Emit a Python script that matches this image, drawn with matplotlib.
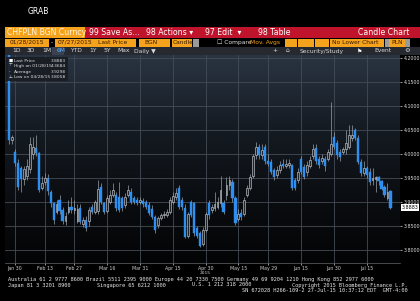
import matplotlib
matplotlib.use("Agg")
import matplotlib.pyplot as plt
from matplotlib.patches import Rectangle
from matplotlib.colors import LinearSegmentedColormap
import numpy as np
import pandas as pd

# ---------------- data ----------------
dates = pd.bdate_range("2015-01-28", "2015-07-27")
opens = [
4.250, 4.030, 4.005, 3.981, 3.970, 3.947, 3.955, 3.968, 4.000, 4.013,
4.002, 3.930, 3.942, 3.950, 3.921, 3.897, 3.880, 3.905, 3.884, 3.860,
3.880, 3.890, 3.883, 3.860, 3.887, 3.855, 3.862, 3.860, 3.890, 3.880,
3.882, 3.932, 3.897, 3.882, 3.900, 3.915, 3.915, 3.911, 3.908, 3.893,
3.915, 3.921, 3.908, 3.905, 3.900, 3.903, 3.900, 3.893, 3.885, 3.869,
3.852, 3.866, 3.872, 3.873, 3.880, 3.900, 3.910, 3.930, 3.905, 3.887,
3.830, 3.900, 3.897, 3.845, 3.835, 3.812, 3.842, 3.898, 3.884, 3.888,
3.890, 3.897, 3.897, 3.915, 3.935, 3.942, 3.908, 3.865, 3.878, 3.875,
3.915, 3.930, 3.955, 3.998, 4.014, 3.998, 4.015, 3.985, 3.984, 3.966,
3.957, 3.966, 3.980, 3.975, 3.976, 3.977, 3.945, 3.945, 3.990, 3.973,
3.963, 3.975, 3.995, 4.012, 3.990, 3.985, 3.990, 3.990, 4.000, 4.036,
4.022, 4.005, 4.005, 4.010, 4.015, 4.033, 4.050, 4.033, 3.984, 3.960,
3.970, 3.963, 3.945, 3.948, 3.951, 3.943, 3.932, 3.908, 3.922]
closes = [
4.030, 4.035, 3.982, 3.932, 3.948, 3.968, 3.975, 4.020, 4.015, 4.002,
3.925, 3.940, 3.950, 3.922, 3.897, 3.862, 3.895, 3.882, 3.860, 3.870,
3.890, 3.883, 3.888, 3.885, 3.859, 3.862, 3.845, 3.884, 3.880, 3.900,
3.928, 3.900, 3.880, 3.908, 3.915, 3.925, 3.887, 3.883, 3.887, 3.911,
3.925, 3.900, 3.901, 3.898, 3.904, 3.896, 3.890, 3.878, 3.869, 3.842,
3.866, 3.872, 3.876, 3.880, 3.905, 3.913, 3.918, 3.890, 3.890, 3.828,
3.875, 3.873, 3.835, 3.830, 3.808, 3.842, 3.875, 3.872, 3.890, 3.895,
3.900, 3.925, 3.880, 3.935, 3.945, 3.908, 3.856, 3.875, 3.869, 3.905,
3.930, 3.952, 3.995, 4.014, 3.998, 4.008, 3.985, 3.979, 3.963, 3.953,
3.966, 3.977, 3.975, 3.980, 3.981, 3.930, 3.930, 3.963, 3.963, 3.953,
3.978, 3.988, 4.010, 3.985, 3.978, 3.991, 3.975, 4.005, 4.020, 4.015,
3.998, 3.994, 4.010, 4.022, 4.040, 4.040, 4.033, 3.984, 3.960, 3.970,
3.956, 3.942, 3.950, 3.951, 3.943, 3.928, 3.915, 3.920, 3.8883]
highs = [
4.3684, 4.040, 4.010, 3.990, 3.975, 3.975, 3.990, 4.035, 4.035, 4.040,
4.005, 3.955, 3.960, 3.958, 3.925, 3.900, 3.905, 3.915, 3.890, 3.880,
3.905, 3.910, 3.905, 3.895, 3.895, 3.868, 3.870, 3.890, 3.895, 3.905,
3.946, 3.940, 3.900, 3.915, 3.925, 3.940, 3.920, 3.942, 3.912, 3.918,
3.935, 3.930, 3.912, 3.910, 3.910, 3.908, 3.905, 3.900, 3.893, 3.872,
3.870, 3.878, 3.882, 3.885, 3.910, 3.920, 3.930, 3.935, 3.910, 3.895,
3.880, 3.905, 3.900, 3.850, 3.840, 3.848, 3.880, 3.905, 3.895, 3.920,
3.910, 3.955, 3.905, 3.953, 3.955, 3.948, 3.912, 3.885, 3.885, 3.910,
3.935, 3.958, 4.000, 4.025, 4.020, 4.020, 4.020, 4.000, 3.990, 3.970,
3.975, 3.985, 3.990, 3.990, 3.990, 3.980, 3.950, 3.970, 3.995, 3.980,
3.985, 3.995, 4.020, 4.020, 3.995, 4.000, 3.995, 4.010, 4.109, 4.045,
4.030, 4.010, 4.015, 4.050, 4.060, 4.060, 4.055, 4.040, 3.990, 3.985,
3.975, 3.970, 3.970, 3.955, 3.955, 3.945, 3.935, 3.940, 3.925]
lows = [
4.020, 4.020, 3.975, 3.925, 3.920, 3.935, 3.945, 3.960, 3.990, 3.995,
3.920, 3.925, 3.935, 3.915, 3.890, 3.855, 3.875, 3.875, 3.855, 3.853,
3.875, 3.878, 3.875, 3.857, 3.855, 3.848, 3.840, 3.850, 3.875, 3.875,
3.875, 3.895, 3.875, 3.878, 3.895, 3.910, 3.882, 3.880, 3.882, 3.888,
3.910, 3.895, 3.895, 3.893, 3.895, 3.890, 3.885, 3.872, 3.865, 3.835,
3.845, 3.862, 3.866, 3.868, 3.875, 3.895, 3.905, 3.885, 3.883, 3.825,
3.825, 3.868, 3.830, 3.825, 3.8058, 3.808, 3.838, 3.865, 3.878, 3.882,
3.885, 3.890, 3.875, 3.905, 3.925, 3.900, 3.852, 3.860, 3.862, 3.870,
3.910, 3.925, 3.950, 3.990, 3.990, 3.990, 3.980, 3.975, 3.958, 3.945,
3.950, 3.960, 3.970, 3.970, 3.970, 3.925, 3.925, 3.940, 3.958, 3.948,
3.955, 3.970, 3.990, 3.980, 3.970, 3.980, 3.965, 3.985, 3.995, 4.010,
3.990, 3.985, 4.000, 4.000, 4.010, 4.028, 4.030, 3.980, 3.955, 3.955,
3.950, 3.935, 3.935, 3.920, 3.935, 3.925, 3.910, 3.905, 3.885]
y_ticks = [3.80, 3.85, 3.90, 3.95, 4.00, 4.05, 4.10, 4.15, 4.20]
x_tick_dates = ["2015-01-30", "2015-02-13", "2015-02-27", "2015-03-16",
                "2015-03-31", "2015-04-15", "2015-04-30", "2015-05-15",
                "2015-05-29", "2015-06-15", "2015-06-30", "2015-07-15"]
x_tick_labels = ["Jan 30", "Feb 13", "Feb 27", "Mar 16", "Mar 31", "Apr 15",
                 "Apr 30", "May 15", "May 29", "Jun 15", "Jun 30", "Jul 15"]
legend_rows = [("Last Price", "3.8883"), ("High on 01/28/15", "4.3684"),
               ("Average", "3.9298"), ("Low on 04/28/15", "3.8058")]
last_price = 3.8883

# ---------------- figure helpers ----------------
W, H = 420, 301
fig = plt.figure(figsize=(W / 100, H / 100), dpi=100, facecolor="black")

def fx(x): return x / W
def fy(y): return 1 - y / H

def rect(x0, y0, x1, y1, color, ec="none", lw=0, z=1, alpha=1.0):
    fig.patches.append(Rectangle((fx(x0), fy(y1)), (x1 - x0) / W, (y1 - y0) / H,
                                 transform=fig.transFigure, facecolor=color,
                                 edgecolor=ec, linewidth=lw, zorder=z, alpha=alpha))

def txt(x, y, s, size=4, color="white", ha="left", va="center", **kw):
    fig.text(fx(x), fy(y), s, fontsize=size, color=color, ha=ha, va=va, **kw)

ORANGE = "#f5a21c"
RED = "#c0142c"
DARKTXT = "#3a1a00"

# title
txt(28, 11, "GRAB", size=5.5)

# row 1
rect(5, 27, 85, 38, ORANGE)
txt(7, 32.5, "CHFPLN BGN Curncy", size=5.6, color="#fff4e0")
rect(85, 27, 420, 38, RED)
txt(89, 32.5, "99 Save As...", size=5.6)
txt(146, 32.5, "98 Actions \u25be", size=5.6)
txt(205, 32.5, "97 Edit  \u25be", size=5.6)
txt(258, 32.5, "98 Table", size=5.6)
txt(409, 32.5, "Candle Chart", size=5.6, ha="right")

# row 2
rect(5, 38.5, 49, 46.5, ORANGE)
txt(10, 42.5, "01/28/2015", size=4.3, color=DARKTXT)
txt(51, 42.5, "-", size=4.3)
rect(55, 38.5, 97, 46.5, ORANGE)
txt(58, 42.5, "07/27/2015", size=4.3, color=DARKTXT)
rect(97, 38.5, 136, 46.5, ORANGE)
txt(98, 42.5, "Last Price", size=4.3, color=DARKTXT)
rect(139, 38.5, 170, 46.5, ORANGE)
txt(144, 42.5, "BGN", size=4.3, color=DARKTXT)
rect(172, 38.5, 192, 46.5, ORANGE)
txt(173, 42.5, "Candle", size=4.3, color=DARKTXT)
rect(193, 38.5, 199, 46.5, "#9a9a9a")
txt(217, 42.5, "\u2610 Compare", size=4.3, color="#e0e0e0")
txt(250, 42.5, "Mov. Avgs", size=4.3, color=ORANGE)
for a, b in [(285, 297), (298, 314), (315, 329), (330, 384)]:
    rect(a, 38.5, b, 46.5, ORANGE)
txt(332, 42.5, "No Lower Chart", size=4.3, color=DARKTXT)
rect(385, 38.5, 389, 46.5, "#9a9a9a")
rect(389, 38.5, 405, 46.5, ORANGE)
txt(391, 42.5, "PLN", size=4.3, color=DARKTXT)
rect(405, 38.5, 410, 46.5, "#9a9a9a")

# row 3
rect(5, 47, 420, 55, "#262a30")
tabs = [("1D", 12), ("3D", 27), ("1M", 42), ("6M", 57), ("YTD", 70),
        ("1Y", 89), ("5Y", 103), ("Max", 117), ("Daily \u25bc", 134)]
rect(52, 47.5, 64, 54.5, "#3a4252")
for s, x in tabs:
    txt(x, 51, s, size=4.3, color="#5ab0ff" if s == "6M" else "#d8d8d8")
txt(272, 51, "+", size=4.3, color="#d8d8d8")
txt(286, 51, "\u2302", size=4.3, color="#d8d8d8")
txt(300, 51, "Security/Study", size=4.3, color="#d8d8d8")
txt(357, 51, "\u2691", size=4.3, color="white")
txt(374, 51, "Event", size=4.3, color="#d8d8d8")
txt(404, 51, "\u2699", size=4.6, color="#d8d8d8")

# ---------------- chart ----------------
ax = fig.add_axes([fx(5), fy(263), (400 - 5) / W, (263 - 55) / H])
ax.set_facecolor("black")
n = len(dates)
xs = np.arange(n)
ylo, yhi = 3.773, 4.206
ax.set_xlim(-1.3, 131.2)
ax.set_ylim(ylo, yhi)

grad = np.linspace(1, 0, 256).reshape(-1, 1)
cmap = LinearSegmentedColormap.from_list("bg", ["#030405", "#0b0e12", "#161c24", "#2a3442"])
ax.imshow(grad, extent=[-1.3, 131.2, ylo, yhi], aspect="auto", cmap=cmap,
          origin="upper", zorder=0, vmin=0, vmax=1)

for yv in y_ticks:
    ax.axhline(yv, color="#454c56", lw=0.6, zorder=1)
tick_idx = [dates.get_loc(pd.Timestamp(d)) for d in x_tick_dates]
for xi in tick_idx:
    ax.axvline(xi, color="#454c56", lw=0.6, zorder=1)

o = np.array(opens); c = np.array(closes); h = np.array(highs); l = np.array(lows)
up = c >= o
dn = ~up
ax.vlines(xs, l, h, color="#9aa0a8", lw=0.5, zorder=2)
ax.bar(xs[dn], np.maximum(o[dn] - c[dn], 0.0015), bottom=c[dn], width=0.72,
       color="#2f8ff0", edgecolor="#2f8ff0", linewidth=0.3, zorder=3)
ax.bar(xs[up], np.maximum(c[up] - o[up], 0.0015), bottom=o[up], width=0.62,
       color="#20252c", edgecolor="#c4c8ce", linewidth=0.45, zorder=3)

ax.yaxis.tick_right()
ax.set_yticks(y_ticks)
ax.set_yticklabels(["%.4f" % v for v in y_ticks])
ax.set_xticks(tick_idx)
ax.set_xticklabels(x_tick_labels)
ax.tick_params(axis="y", colors="#dddddd", labelsize=3.4, length=1.5, width=0.5, pad=1.2)
ax.tick_params(axis="x", colors="#cccccc", labelsize=3.4, length=1.2, width=0.5, pad=1.0)
for s in ["top", "left", "right"]:
    ax.spines[s].set_visible(False)
ax.spines["bottom"].set_color("#666666")
ax.spines["bottom"].set_linewidth(0.5)
ax.text(tick_idx[6], -0.05, "2015", transform=ax.get_xaxis_transform(),
        ha="center", va="center", fontsize=3.2, color="#cccccc")

# last price tag
ax.text(1.004, last_price, "%.4f" % last_price, transform=ax.get_yaxis_transform(),
        ha="left", va="center", fontsize=3.4, color="black",
        bbox=dict(boxstyle="square,pad=0.15", fc="white", ec="none"), clip_on=False)

# legend box
rect(6, 57, 68, 81, "#181c22", z=5, alpha=0.9)
syms = ["\u25a0", "\u22a4", "-", "\u22a5"]
for k, ((lab, val), sym) in enumerate(zip(legend_rows, syms)):
    yy = 60.5 + k * 5.6
    fig.text(fx(9), fy(yy), sym, fontsize=3.2, color="white", va="center", zorder=6)
    fig.text(fx(14), fy(yy), lab, fontsize=3.2, color="#dddddd", va="center", zorder=6)
    fig.text(fx(66), fy(yy), val, fontsize=3.2, color="#dddddd", va="center", ha="right", zorder=6)

# footer
foot = dict(size=3.8, color="#e8e8e8", family="DejaVu Sans Mono")
txt(8, 279.5, "Australia 61 2 9777 8600 Brazil 5511 2395 9000 Europe 44 20 7330 7500 Germany 49 69 9204 1210 Hong Kong 852 2977 6000", **foot)
txt(8, 285, "Japan 81 3 3201 8900", **foot)
txt(97, 285, "Singapore 65 6212 1000", **foot)
txt(192, 285, "U.S. 1 212 318 2000", **foot)
txt(408, 285, "Copyright 2015 Bloomberg Finance L.P.", ha="right", **foot)
txt(408, 290.5, "SN 672028 H266-109-2 27-Jul-15 10:37:12 EDT  GMT-4:00", ha="right", **foot)

fig.savefig("out.png", dpi=100, facecolor="black")
